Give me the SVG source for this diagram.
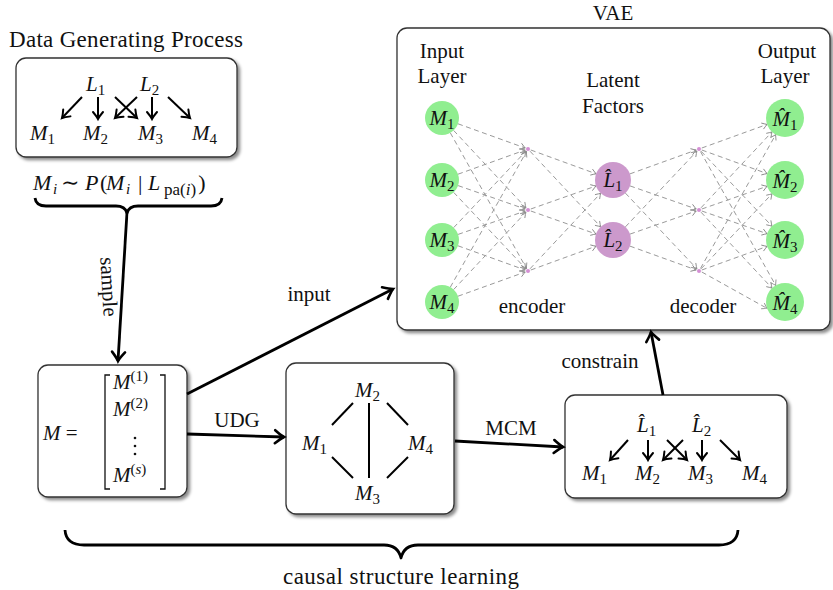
<svg xmlns="http://www.w3.org/2000/svg" width="833" height="590" viewBox="0 0 833 590" font-family="'Liberation Serif', 'DejaVu Serif', serif">
  <style>
    .t { font-family: "Liberation Serif", "DejaVu Serif", serif; font-size: 21px; fill: #111; }
    .mi { font-style: italic; }
    .sub { font-style: normal; font-size: 15px; }
    .it { font-style: italic; }
    .box { fill: #fff; stroke: #333; stroke-width: 1.3; filter: url(#sh); }
    .e { stroke: #9a9a9a; stroke-width: 1; stroke-dasharray: 5 3.5; fill: none; marker-end: url(#ga); }
    .arr { stroke: #000; stroke-width: 2.8; fill: none; marker-end: url(#ah); }
    .sarr { stroke: #000; stroke-width: 2; fill: none; marker-end: url(#as); }
    .und { stroke: #000; stroke-width: 2; }
    .brace { stroke: #000; stroke-width: 2.8; fill: none; stroke-linejoin: round; }
    .vin { fill: #90ee90; }
    .lat { fill: #cc99cc; }
    .dot { fill: #d48fd4; }
  </style>
  <defs>
    <filter id="sh" x="-10%" y="-10%" width="130%" height="130%">
      <feDropShadow dx="2.5" dy="2.5" stdDeviation="1.6" flood-color="#000" flood-opacity="0.45"/>
    </filter>
    <marker id="ah" markerUnits="userSpaceOnUse" viewBox="-12 -10 16 20" markerWidth="16" markerHeight="20" refX="0" refY="0" orient="auto">
      <path d="M-9,-6.5 Q-3,-1.5 0,0 Q-3,1.5 -9,6.5" stroke="#000" stroke-width="2.6" fill="none" stroke-linecap="round"/>
    </marker>
    <marker id="as" markerUnits="userSpaceOnUse" viewBox="-10 -8 14 16" markerWidth="14" markerHeight="16" refX="0" refY="0" orient="auto">
      <path d="M-7,-5 Q-2.5,-1.2 0,0 Q-2.5,1.2 -7,5" stroke="#000" stroke-width="2" fill="none" stroke-linecap="round"/>
    </marker>
    <marker id="ga" markerUnits="userSpaceOnUse" viewBox="-8 -6 10 12" markerWidth="10" markerHeight="12" refX="0" refY="0" orient="auto">
      <path d="M-5,-3.2 Q-1.5,-0.8 0,0 Q-1.5,0.8 -5,3.2" stroke="#8a8a8a" stroke-width="0.9" fill="none" stroke-dasharray="none"/>
    </marker>
  </defs>

  <rect width="833" height="590" fill="#fff"/>

  <!-- Data generating process -->
  <g id="dgp">
    <text class="t" x="126" y="47" text-anchor="middle" style="font-size:23px" textLength="234" lengthAdjust="spacing">Data Generating Process</text>
    <rect class="box" x="16" y="58" width="221" height="99" rx="10"/>
    <text class="t mi" x="86" y="91">L<tspan class="sub" dy="4">1</tspan></text>
    <text class="t mi" x="140" y="91">L<tspan class="sub" dy="4">2</tspan></text>
    <text class="t mi" x="30" y="140">M<tspan class="sub" dy="4">1</tspan></text>
    <text class="t mi" x="83" y="140">M<tspan class="sub" dy="4">2</tspan></text>
    <text class="t mi" x="138" y="140">M<tspan class="sub" dy="4">3</tspan></text>
    <text class="t mi" x="192" y="140">M<tspan class="sub" dy="4">4</tspan></text>
    <line class="sarr" x1="82" y1="97" x2="62" y2="118"/>
    <line class="sarr" x1="98" y1="97" x2="98" y2="119"/>
    <line class="sarr" x1="115" y1="97" x2="137" y2="118"/>
    <line class="sarr" x1="137" y1="97" x2="115" y2="118"/>
    <line class="sarr" x1="152" y1="97" x2="152" y2="119"/>
    <line class="sarr" x1="168" y1="97" x2="190" y2="118"/>
    <text class="t" style="font-size:22px" y="190"><tspan class="it" x="33">M</tspan><tspan class="sub it" x="53" y="194">i</tspan><tspan x="61" y="190">∼</tspan><tspan class="it" x="85">P</tspan><tspan x="100">(</tspan><tspan class="it" x="106">M</tspan><tspan class="sub it" x="126" y="194">i</tspan><tspan x="138" y="190">|</tspan><tspan class="it" x="148">L</tspan><tspan class="sub" style="font-size:17px" x="164" y="195">pa(<tspan class="it">i</tspan>)</tspan><tspan dx="2" y="190">)</tspan></text>
  </g>

  <!-- Sample matrix -->
  <g id="sample-matrix">
    <rect class="box" x="38" y="365" width="149" height="132" rx="10"/>
    <text class="t" x="43" y="440"><tspan class="it">M</tspan> =</text>
    <path d="M110,375 H105 V489 H110 M160,375 H165 V489 H160" stroke="#111" stroke-width="1.3" fill="none"/>
    <text class="t" x="113" y="389"><tspan class="it">M</tspan><tspan class="sub" dy="-8">(1)</tspan></text>
    <text class="t" x="113" y="416"><tspan class="it">M</tspan><tspan class="sub" dy="-8">(2)</tspan></text>
    <circle cx="135" cy="438" r="1.3" fill="#111"/>
    <circle cx="135" cy="446" r="1.3" fill="#111"/>
    <circle cx="135" cy="454" r="1.3" fill="#111"/>
    <text class="t" x="113" y="482"><tspan class="it">M</tspan><tspan class="sub" dy="-8">(<tspan class="it">s</tspan>)</tspan></text>
  </g>

  <!-- Undirected graph -->
  <g id="udg">
    <rect class="box" x="286" y="363" width="168" height="151" rx="10"/>
    <text class="t mi" x="355" y="397">M<tspan class="sub" dy="4">2</tspan></text>
    <text class="t mi" x="302" y="450">M<tspan class="sub" dy="4">1</tspan></text>
    <text class="t mi" x="408" y="450">M<tspan class="sub" dy="4">4</tspan></text>
    <text class="t mi" x="355" y="500">M<tspan class="sub" dy="4">3</tspan></text>
    <line class="und" x1="353" y1="403" x2="332" y2="425"/>
    <line class="und" x1="369" y1="403" x2="369" y2="478"/>
    <line class="und" x1="387" y1="403" x2="408" y2="425"/>
    <line class="und" x1="332" y1="457" x2="353" y2="478"/>
    <line class="und" x1="408" y1="457" x2="387" y2="478"/>
  </g>

  <!-- Minimal causal model -->
  <g id="mcm">
    <rect class="box" x="565" y="395" width="222" height="103" rx="10"/>
    <text class="t mi" x="637" y="432">L&#x302;<tspan class="sub" dy="4">1</tspan></text>
    <text class="t mi" x="692" y="432">L&#x302;<tspan class="sub" dy="4">2</tspan></text>
    <text class="t mi" x="582" y="480">M<tspan class="sub" dy="4">1</tspan></text>
    <text class="t mi" x="635" y="480">M<tspan class="sub" dy="4">2</tspan></text>
    <text class="t mi" x="688" y="480">M<tspan class="sub" dy="4">3</tspan></text>
    <text class="t mi" x="742" y="480">M<tspan class="sub" dy="4">4</tspan></text>
    <line class="sarr" x1="628" y1="440" x2="610" y2="460"/>
    <line class="sarr" x1="648" y1="440" x2="648" y2="460"/>
    <line class="sarr" x1="667" y1="440" x2="687" y2="460"/>
    <line class="sarr" x1="683" y1="440" x2="663" y2="460"/>
    <line class="sarr" x1="702" y1="440" x2="702" y2="460"/>
    <line class="sarr" x1="720" y1="440" x2="740" y2="460"/>
  </g>

  <!-- VAE -->
  <g id="vae">
    <text class="t" x="613" y="20" text-anchor="middle">VAE</text>
    <rect class="box" x="397" y="28" width="433" height="302" rx="10"/>
    <text class="t" x="442" y="58" text-anchor="middle">Input</text>
    <text class="t" x="442" y="83" text-anchor="middle">Layer</text>
    <text class="t" x="613" y="87" text-anchor="middle">Latent</text>
    <text class="t" x="613" y="113" text-anchor="middle">Factors</text>
    <text class="t" x="787" y="58" text-anchor="middle">Output</text>
    <text class="t" x="785" y="83" text-anchor="middle">Layer</text>
    <text class="t" x="532" y="313" text-anchor="middle">encoder</text>
    <text class="t" x="703" y="313" text-anchor="middle">decoder</text>

    <g id="vae-edges">
      <!-- input layer to encoder units -->
      <line class="e" x1="458.0" y1="123.8" x2="525.2" y2="148.0"/>
      <line class="e" x1="453.6" y1="130.4" x2="525.9" y2="207.8"/>
      <line class="e" x1="450.3" y1="132.8" x2="526.5" y2="268.4"/>
      <line class="e" x1="458.0" y1="174.2" x2="525.2" y2="150.0"/>
      <line class="e" x1="458.1" y1="185.6" x2="525.2" y2="209.0"/>
      <line class="e" x1="453.7" y1="192.4" x2="525.9" y2="268.8"/>
      <line class="e" x1="453.7" y1="227.6" x2="525.9" y2="151.2"/>
      <line class="e" x1="458.1" y1="234.4" x2="525.2" y2="211.0"/>
      <line class="e" x1="458.0" y1="245.8" x2="525.2" y2="270.0"/>
      <line class="e" x1="450.3" y1="287.2" x2="526.5" y2="151.6"/>
      <line class="e" x1="453.6" y1="289.6" x2="525.9" y2="212.2"/>
      <line class="e" x1="458.0" y1="296.2" x2="525.2" y2="272.0"/>
      <!-- encoder units to latent factors -->
      <line class="e" x1="530.8" y1="150.0" x2="596.1" y2="173.8"/>
      <line class="e" x1="530.0" y1="151.2" x2="600.7" y2="226.8"/>
      <line class="e" x1="530.8" y1="209.0" x2="596.0" y2="186.0"/>
      <line class="e" x1="530.8" y1="211.0" x2="596.0" y2="234.0"/>
      <line class="e" x1="530.0" y1="268.8" x2="600.7" y2="193.2"/>
      <line class="e" x1="530.8" y1="270.0" x2="596.1" y2="246.2"/>
      <!-- latent factors to decoder units -->
      <line class="e" x1="629.9" y1="173.9" x2="696.2" y2="150.0"/>
      <line class="e" x1="630.0" y1="185.9" x2="696.2" y2="209.0"/>
      <line class="e" x1="625.4" y1="193.1" x2="696.9" y2="268.8"/>
      <line class="e" x1="625.4" y1="226.9" x2="696.9" y2="151.2"/>
      <line class="e" x1="630.0" y1="234.1" x2="696.2" y2="211.0"/>
      <line class="e" x1="629.9" y1="246.1" x2="696.2" y2="270.0"/>
      <!-- decoder units to output layer -->
      <line class="e" x1="701.8" y1="148.0" x2="767.1" y2="124.4"/>
      <line class="e" x1="701.8" y1="150.0" x2="767.1" y2="173.6"/>
      <line class="e" x1="701.1" y1="151.2" x2="772.0" y2="226.2"/>
      <line class="e" x1="700.5" y1="151.6" x2="775.7" y2="285.4"/>
      <line class="e" x1="701.0" y1="207.8" x2="772.0" y2="131.9"/>
      <line class="e" x1="701.8" y1="209.0" x2="767.1" y2="186.3"/>
      <line class="e" x1="701.8" y1="211.0" x2="767.1" y2="233.7"/>
      <line class="e" x1="701.0" y1="212.2" x2="772.0" y2="288.1"/>
      <line class="e" x1="700.5" y1="268.4" x2="775.7" y2="134.6"/>
      <line class="e" x1="701.1" y1="268.8" x2="772.0" y2="193.8"/>
      <line class="e" x1="701.8" y1="270.0" x2="767.1" y2="246.4"/>
      <line class="e" x1="701.8" y1="272.0" x2="767.1" y2="308.4"/>
    </g>

    <g id="input-layer">
      <circle class="vin" cx="442" cy="118" r="17"/>
      <text class="t mi" x="442" y="125" text-anchor="middle">M<tspan class="sub" dy="4">1</tspan></text>
      <circle class="vin" cx="442" cy="180" r="17"/>
      <text class="t mi" x="442" y="187" text-anchor="middle">M<tspan class="sub" dy="4">2</tspan></text>
      <circle class="vin" cx="442" cy="240" r="17"/>
      <text class="t mi" x="442" y="247" text-anchor="middle">M<tspan class="sub" dy="4">3</tspan></text>
      <circle class="vin" cx="442" cy="302" r="17"/>
      <text class="t mi" x="442" y="309" text-anchor="middle">M<tspan class="sub" dy="4">4</tspan></text>
    </g>

    <g id="encoder-units">
      <circle class="dot" cx="528" cy="149" r="2"/>
      <circle class="dot" cx="528" cy="210" r="2"/>
      <circle class="dot" cx="528" cy="271" r="2"/>
    </g>

    <g id="latent-layer">
      <circle class="lat" cx="613" cy="180" r="18"/>
      <text class="t mi" x="613" y="187" text-anchor="middle">L&#x302;<tspan class="sub" dy="4">1</tspan></text>
      <circle class="lat" cx="613" cy="240" r="18"/>
      <text class="t mi" x="613" y="247" text-anchor="middle">L&#x302;<tspan class="sub" dy="4">2</tspan></text>
    </g>

    <g id="decoder-units">
      <circle class="dot" cx="699" cy="149" r="2"/>
      <circle class="dot" cx="699" cy="210" r="2"/>
      <circle class="dot" cx="699" cy="271" r="2"/>
    </g>

    <g id="output-layer">
      <circle class="vin" cx="785" cy="118" r="19"/>
      <text class="t mi" x="785" y="126" text-anchor="middle">M&#x302;<tspan class="sub" dy="4">1</tspan></text>
      <circle class="vin" cx="785" cy="180" r="19"/>
      <text class="t mi" x="785" y="188" text-anchor="middle">M&#x302;<tspan class="sub" dy="4">2</tspan></text>
      <circle class="vin" cx="785" cy="240" r="19"/>
      <text class="t mi" x="785" y="248" text-anchor="middle">M&#x302;<tspan class="sub" dy="4">3</tspan></text>
      <circle class="vin" cx="785" cy="302" r="19"/>
      <text class="t mi" x="785" y="310" text-anchor="middle">M&#x302;<tspan class="sub" dy="4">4</tspan></text>
    </g>
  </g>

  <!-- Connectors between stages -->
  <g id="connectors">
    <path class="brace" d="M35,198 Q36,206 46,206 H116 Q125,206 127,213 Q129,206 138,206 H211 Q221,206 222,198"/>
    <line class="arr" x1="127" y1="212" x2="118" y2="361"/>
    <text class="t" transform="translate(106,287) rotate(86.6)" text-anchor="middle" y="4">sample</text>

    <line class="arr" x1="187" y1="394" x2="393" y2="289"/>
    <text class="t" x="309" y="301" text-anchor="middle">input</text>

    <line class="arr" x1="187" y1="434" x2="284" y2="437"/>
    <text class="t" x="237" y="427" text-anchor="middle">UDG</text>

    <line class="arr" x1="455" y1="441" x2="563" y2="447"/>
    <text class="t" x="511" y="435" text-anchor="middle">MCM</text>

    <line class="arr" x1="663" y1="395" x2="651" y2="332"/>
    <text class="t" x="600" y="368" text-anchor="middle">constrain</text>

    <path class="brace" d="M65,530 Q66,545 84,545 H384 Q398,545 401,558 Q404,545 418,545 H719 Q737,545 738,530"/>
    <text class="t" x="401" y="584" text-anchor="middle" style="font-size:23px" textLength="236" lengthAdjust="spacing">causal structure learning</text>
  </g>
</svg>
